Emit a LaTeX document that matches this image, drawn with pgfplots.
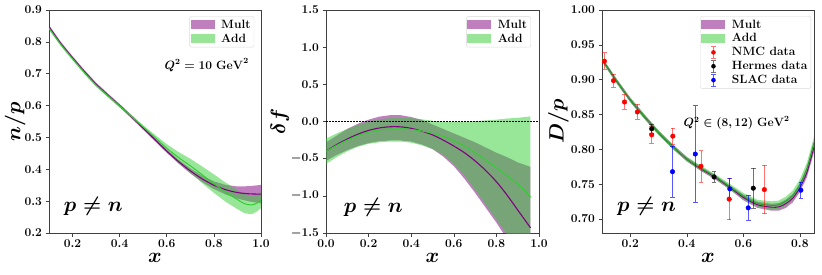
\documentclass[border=0pt]{standalone}
\usepackage{pgfplots}
\pgfplotsset{compat=1.18}
\usepackage{pgfplotstable}
\usepgfplotslibrary{fillbetween}
\definecolor{mpurple}{RGB}{128,0,128}
\definecolor{mlime}{RGB}{50,205,50}

\pgfplotstableread{
x mc mu ml
0.10 0.847 0.853 0.841
0.15 0.795 0.800 0.790
0.20 0.750 0.755 0.745
0.25 0.707 0.712 0.702
0.30 0.667 0.672 0.662
0.35 0.633 0.638 0.628
0.40 0.600 0.605 0.595
0.45 0.565 0.570 0.560
0.50 0.529 0.534 0.524
0.55 0.493 0.498 0.488
0.60 0.457 0.462 0.452
0.65 0.424 0.430 0.418
0.70 0.395 0.403 0.387
0.75 0.370 0.380 0.360
0.80 0.350 0.362 0.338
0.85 0.336 0.351 0.321
0.90 0.327 0.346 0.308
0.95 0.323 0.347 0.299
1.00 0.322 0.351 0.293
}\npMult
\pgfplotstableread{
x ac au al
0.10 0.843 0.848 0.838
0.15 0.792 0.797 0.787
0.20 0.747 0.752 0.742
0.25 0.704 0.709 0.699
0.30 0.664 0.669 0.659
0.35 0.631 0.636 0.626
0.40 0.599 0.604 0.594
0.45 0.566 0.571 0.561
0.50 0.533 0.538 0.528
0.55 0.500 0.508 0.492
0.60 0.466 0.479 0.453
0.65 0.437 0.454 0.420
0.70 0.411 0.433 0.389
0.75 0.383 0.409 0.357
0.80 0.355 0.384 0.326
0.85 0.328 0.358 0.298
0.90 0.305 0.335 0.275
0.93 0.292 0.322 0.262
0.96 0.288 0.317 0.259
0.98 0.293 0.320 0.266
1.00 0.303 0.328 0.278
}\npAdd
\pgfplotstableread{
x mc mu ml
0.00 -0.40 -0.28 -0.53
0.05 -0.31 -0.19 -0.45
0.10 -0.235 -0.10 -0.385
0.15 -0.17 -0.03 -0.33
0.20 -0.12 0.025 -0.29
0.25 -0.087 0.065 -0.265
0.30 -0.071 0.085 -0.255
0.35 -0.072 0.085 -0.255
0.40 -0.092 0.06 -0.27
0.45 -0.13 0.02 -0.31
0.50 -0.18 -0.04 -0.37
0.55 -0.25 -0.10 -0.47
0.60 -0.33 -0.16 -0.60
0.65 -0.42 -0.22 -0.77
0.70 -0.53 -0.28 -0.96
0.75 -0.66 -0.35 -1.16
0.80 -0.81 -0.42 -1.36
0.85 -0.99 -0.48 -1.58
0.90 -1.19 -0.55 -1.82
0.95 -1.39 -0.60 -2.05
0.96 -1.43 -0.61 -2.10
}\dfMult
\pgfplotstableread{
x ac au al
0.00 -0.40 -0.23 -0.57
0.05 -0.32 -0.16 -0.48
0.10 -0.25 -0.10 -0.40
0.15 -0.19 -0.045 -0.34
0.20 -0.145 0.0 -0.30
0.25 -0.115 0.03 -0.28
0.30 -0.10 0.045 -0.27
0.35 -0.098 0.05 -0.27
0.40 -0.107 0.045 -0.285
0.45 -0.128 0.03 -0.32
0.50 -0.16 0.01 -0.37
0.55 -0.20 -0.005 -0.45
0.60 -0.26 -0.01 -0.57
0.65 -0.33 -0.005 -0.73
0.70 -0.42 0.005 -0.92
0.75 -0.52 0.015 -1.12
0.80 -0.62 0.025 -1.32
0.85 -0.73 0.04 -1.52
0.90 -0.84 0.05 -1.74
0.95 -0.98 0.065 -1.95
0.96 -1.02 0.07 -2.00
}\dfAdd
\pgfplotstableread{
x mc mu ml
0.10 0.929 0.932 0.926
0.15 0.899 0.902 0.896
0.20 0.871 0.874 0.868
0.25 0.847 0.850 0.844
0.30 0.824 0.827 0.821
0.35 0.804 0.807 0.801
0.40 0.786 0.789 0.783
0.45 0.772 0.775 0.769
0.50 0.760 0.763 0.757
0.55 0.746 0.749 0.743
0.60 0.731 0.735 0.727
0.65 0.7205 0.725 0.716
0.70 0.717 0.722 0.712
0.725 0.7175 0.723 0.712
0.75 0.722 0.728 0.716
0.775 0.730 0.736 0.724
0.80 0.745 0.751 0.739
0.825 0.767 0.774 0.760
0.85 0.803 0.810 0.796
}\dpMult
\pgfplotstableread{
x ac au al
0.10 0.929 0.9325 0.9255
0.15 0.899 0.9025 0.8955
0.20 0.871 0.8745 0.8675
0.25 0.847 0.8505 0.8435
0.30 0.824 0.8275 0.8205
0.35 0.804 0.8075 0.8005
0.40 0.786 0.7895 0.7825
0.45 0.773 0.7765 0.7695
0.50 0.761 0.7645 0.7575
0.55 0.747 0.751 0.743
0.60 0.733 0.7375 0.7285
0.65 0.7225 0.7275 0.7175
0.70 0.7195 0.7255 0.7135
0.725 0.7205 0.7265 0.7145
0.75 0.7255 0.732 0.719
0.775 0.734 0.741 0.727
0.80 0.750 0.757 0.743
0.825 0.773 0.781 0.765
0.85 0.810 0.818 0.802
}\dpAdd
\pgfplotstableread{
x y e
0.1085 0.9266 0.0119
0.1406 0.8986 0.0095
0.1797 0.8680 0.0107
0.2250 0.8537 0.0107
0.2758 0.8209 0.0124
0.3505 0.8190 0.0117
0.4500 0.7757 0.0226
0.5498 0.7286 0.0295
0.6744 0.7423 0.0348
}\nmc
\pgfplotstableread{
x y e
0.2758 0.8295 0.0067
0.4964 0.7604 0.0076
0.6352 0.7443 0.0290
}\hermes
\pgfplotstableread{
x y e
0.3494 0.7680 0.0367
0.4300 0.7933 0.0695
0.5522 0.7433 0.0155
0.6174 0.7161 0.0179
0.8036 0.7414 0.0114
}\slac

\newcommand{\lf}{\bfseries\fontsize{12}{14}\selectfont}
\pgfplotsset{
 myaxis/.style={
  scale only axis, height=223pt, anchor=south west,
  axis line style={black!75, line width=0.6pt},
  tick align=outside, xtick pos=bottom, ytick pos=left,
  major tick length=3.5pt, tick style={black!75, line width=0.6pt},
  ticklabel style={font=\boldmath\fontsize{12}{14}\selectfont},
  xticklabel style={/pgf/number format/.cd, fixed, fixed zerofill, precision=1},
  xlabel style={font=\boldmath\fontsize{20}{24}\selectfont, at={(axis description cs:0.5,-0.112)}, anchor=center},
  ylabel style={font=\boldmath\fontsize{20}{24}\selectfont, anchor=center},
  legend cell align=left,
  legend style={draw=black!15, rounded corners=2pt, fill=white, font=\lf, inner xsep=1pt, inner ysep=1.5pt, row sep=0pt, column sep=0pt, nodes={inner xsep=2.5pt}},
 },
 multleg/.style={legend image code/.code={\fill[mpurple, fill opacity=0.5, draw=none, sharp corners] (0pt,-4pt) rectangle (24pt,4.5pt); \path[draw=none] (0pt,0pt) -- (28pt,0pt);}},
 addleg/.style={legend image code/.code={\fill[mlime, fill opacity=0.5, draw=none, sharp corners] (0pt,-4pt) rectangle (24pt,4.5pt); \path[draw=none] (0pt,0pt) -- (28pt,0pt);}},
 errred/.style={legend image code/.code={\path[draw=none, fill=none] (0pt,-4pt) rectangle (28pt,4.5pt);
   \draw[red, opacity=0.55, line width=0.8pt, sharp corners] (12pt,-6pt) -- (12pt,6pt) (9.7pt,6pt) -- (14.3pt,6pt) (9.7pt,-6pt) -- (14.3pt,-6pt);
   \fill[red, draw=none] (12pt,0pt) circle (2.3pt);}},
 errblack/.style={legend image code/.code={\path[draw=none, fill=none] (0pt,-4pt) rectangle (28pt,4.5pt);
   \draw[black, opacity=0.55, line width=0.8pt, sharp corners] (12pt,-6pt) -- (12pt,6pt) (9.7pt,6pt) -- (14.3pt,6pt) (9.7pt,-6pt) -- (14.3pt,-6pt);
   \fill[black, draw=none] (12pt,0pt) circle (2.3pt);}},
 errblue/.style={legend image code/.code={\path[draw=none, fill=none] (0pt,-4pt) rectangle (28pt,4.5pt);
   \draw[blue, opacity=0.65, line width=0.8pt, sharp corners] (12pt,-6pt) -- (12pt,6pt) (9.7pt,6pt) -- (14.3pt,6pt) (9.7pt,-6pt) -- (14.3pt,-6pt);
   \fill[blue, draw=none] (12pt,0pt) circle (2.3pt);}},
}
\tikzset{pnode/.style={font=\boldmath\fontsize{20}{24}\selectfont}}

\begin{document}
\begin{tikzpicture}
\path (0,0) rectangle (822pt,274pt);

% ---------- panel 1: n/p ----------
\begin{axis}[myaxis, at={(49pt,41pt)}, width=212pt,
  xmin=0.1, xmax=1.0, ymin=0.2, ymax=0.9,
  xtick={0.2,0.4,0.6,0.8,1.0}, ytick={0.2,0.3,0.4,0.5,0.6,0.7,0.8,0.9},
  yticklabel style={/pgf/number format/.cd, fixed, fixed zerofill, precision=1},
  xlabel={$x$}, ylabel={$n/p$},
  ylabel style={at={(axis description cs:-0.16,0.5)}},
  legend style={at={(0.968,0.972)}, anchor=north east}]
\addplot[name path=mu1, draw=none, forget plot] table[x=x,y=mu]{\npMult};
\addplot[name path=ml1, draw=none, forget plot] table[x=x,y=ml]{\npMult};
\addplot[name path=au1, draw=none, forget plot] table[x=x,y=au]{\npAdd};
\addplot[name path=al1, draw=none, forget plot] table[x=x,y=al]{\npAdd};
\addplot[fill=mpurple, fill opacity=0.5, draw=none, forget plot] fill between[of=mu1 and ml1];
\addplot[fill=mlime, fill opacity=0.5, draw=none, forget plot] fill between[of=au1 and al1];
\addplot[mpurple, line width=1.1pt, smooth, forget plot] table[x=x,y=mc]{\npMult};
\addplot[mlime, line width=1pt, smooth, forget plot] table[x=x,y=ac]{\npAdd};
\addlegendimage{multleg}\addlegendentry{\lf Mult}
\addlegendimage{addleg}\addlegendentry{\lf Add}
\node[font=\boldmath\fontsize{12}{14}\selectfont] at (rel axis cs:0.744,0.753) {$Q^2=10\ \mathrm{GeV}^2$};
\node[pnode] at (rel axis cs:0.209,0.118) {$p\neq n$};
\end{axis}

% ---------- panel 2: delta f ----------
\begin{axis}[myaxis, at={(326pt,41pt)}, width=213pt,
  xmin=0, xmax=1.0, ymin=-1.5, ymax=1.5,
  xtick={0,0.2,0.4,0.6,0.8,1.0}, ytick={-1.5,-1,-0.5,0,0.5,1,1.5},
  yticklabel style={/pgf/number format/.cd, fixed, fixed zerofill, precision=1},
  xlabel={$x$}, ylabel={$\delta f$},
  ylabel style={at={(axis description cs:-0.216,0.5)}},
  legend style={at={(0.962,0.972)}, anchor=north east}]
\addplot[name path=mu2, draw=none, forget plot] table[x=x,y=mu]{\dfMult};
\addplot[name path=ml2, draw=none, forget plot] table[x=x,y=ml]{\dfMult};
\addplot[name path=au2, draw=none, forget plot] table[x=x,y=au]{\dfAdd};
\addplot[name path=al2, draw=none, forget plot] table[x=x,y=al]{\dfAdd};
\addplot[fill=mpurple, fill opacity=0.5, draw=none, forget plot] fill between[of=mu2 and ml2];
\addplot[fill=mlime, fill opacity=0.5, draw=none, forget plot] fill between[of=au2 and al2];
\addplot[mpurple, line width=1.1pt, smooth, forget plot] table[x=x,y=mc]{\dfMult};
\addplot[mlime, line width=1pt, smooth, forget plot] table[x=x,y=ac]{\dfAdd};
\addplot[black, line width=0.5pt, dash pattern=on 1.8pt off 1.2pt, forget plot] coordinates {(0,0) (1,0)};
\addlegendimage{multleg}\addlegendentry{\lf Mult}
\addlegendimage{addleg}\addlegendentry{\lf Add}
\node[pnode] at (rel axis cs:0.222,0.113) {$p\neq n$};
\end{axis}

% ---------- panel 3: D/p ----------
\begin{axis}[myaxis, at={(602pt,41pt)}, width=212pt,
  xmin=0.1, xmax=0.85, ymin=0.68, ymax=1.0,
  xtick={0.2,0.4,0.6,0.8}, ytick={0.70,0.75,0.80,0.85,0.90,0.95,1.00},
  yticklabel style={/pgf/number format/.cd, fixed, fixed zerofill, precision=2},
  xlabel={$x$}, ylabel={$D/p$},
  ylabel style={at={(axis description cs:-0.206,0.5)}},
  legend style={at={(0.986,0.973)}, anchor=north east}]
\addplot[name path=mu3, draw=none, forget plot] table[x=x,y=mu]{\dpMult};
\addplot[name path=ml3, draw=none, forget plot] table[x=x,y=ml]{\dpMult};
\addplot[name path=au3, draw=none, forget plot] table[x=x,y=au]{\dpAdd};
\addplot[name path=al3, draw=none, forget plot] table[x=x,y=al]{\dpAdd};
\addplot[fill=mpurple, fill opacity=0.5, draw=none, forget plot] fill between[of=mu3 and ml3];
\addplot[fill=mlime, fill opacity=0.5, draw=none, forget plot] fill between[of=au3 and al3];
\addplot[mpurple, line width=0.9pt, smooth, forget plot] table[x=x,y=mc]{\dpMult};
\addplot[mlime!80!black, line width=0.9pt, smooth, forget plot] table[x=x,y=ac]{\dpAdd};
\addplot[only marks, mark=*, mark size=2.3pt, red, forget plot,
  error bars/.cd, y dir=both, y explicit,
  error bar style={red, opacity=0.55, line width=0.8pt},
  error mark options={rotate=90, mark size=2.3pt, red, opacity=0.55, line width=0.8pt}]
  table[x=x, y=y, y error=e]{\nmc};
\addplot[only marks, mark=*, mark size=2.3pt, black, forget plot,
  error bars/.cd, y dir=both, y explicit,
  error bar style={black, opacity=0.55, line width=0.8pt},
  error mark options={rotate=90, mark size=2.3pt, black, opacity=0.55, line width=0.8pt}]
  table[x=x, y=y, y error=e]{\hermes};
\addplot[only marks, mark=*, mark size=2.3pt, blue, forget plot,
  error bars/.cd, y dir=both, y explicit,
  error bar style={blue, opacity=0.65, line width=0.8pt},
  error mark options={rotate=90, mark size=2.3pt, blue, opacity=0.65, line width=0.8pt}]
  table[x=x, y=y, y error=e]{\slac};
\addlegendimage{multleg}\addlegendentry{\lf Mult}
\addlegendimage{addleg}\addlegendentry{\lf Add}
\addlegendimage{errred}\addlegendentry{\lf NMC data}
\addlegendimage{errblack}\addlegendentry{\lf Hermes data}
\addlegendimage{errblue}\addlegendentry{\lf SLAC data}
\node[font=\boldmath\fontsize{12}{14}\selectfont] at (rel axis cs:0.635,0.492) {$Q^2\in(8,12)\ \mathrm{GeV}^2$};
\node[pnode] at (rel axis cs:0.21,0.118) {$p\neq n$};
\end{axis}
\end{tikzpicture}
\end{document}
